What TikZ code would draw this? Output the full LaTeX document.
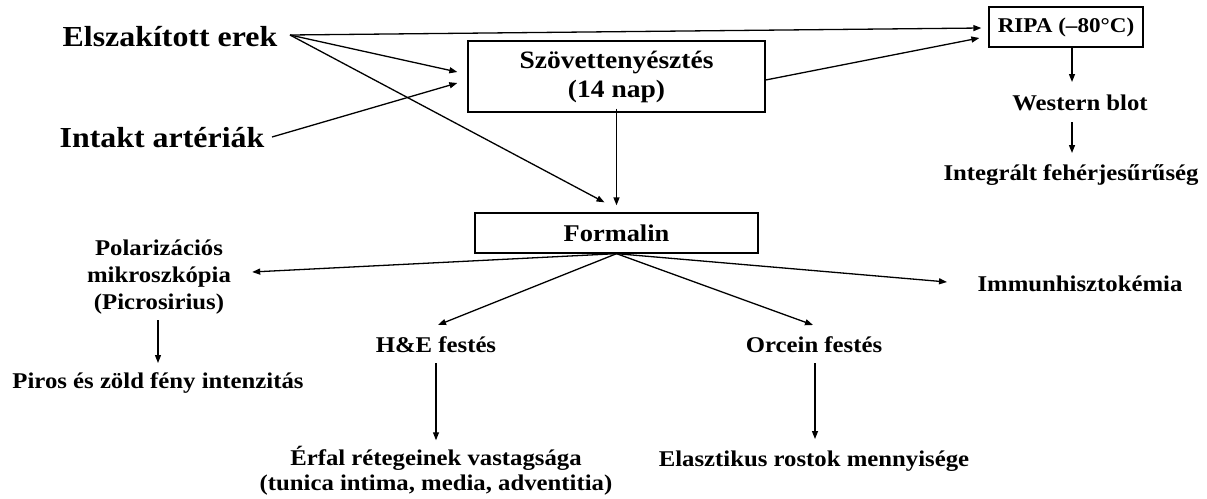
\documentclass[tikz,border=0pt]{standalone}
\usepackage{fontspec}
\setmainfont{Liberation Serif}[FakeStretch=1.1]
\usetikzlibrary{arrows.meta,calc}
\begin{document}
\begin{tikzpicture}[x=1pt,y=-1pt,
  txt/.style={inner sep=0pt, font=\bfseries\fontsize{22.5}{26}\selectfont, align=center},
  big/.style={inner sep=0pt, font=\bfseries\fontsize{29}{34}\selectfont},
  box/.style={draw, line width=1.3pt, inner sep=0pt, align=center},
  arr/.style={line width=1.3pt, -{Triangle[length=8pt,width=6pt]}}]
\useasboundingbox (0,0) rectangle (1207,498);
% sources
\node[big, anchor=base] (elsz) at (170,46) {Elszakított erek};
\node[big, anchor=base] (intakt) at (162,147) {Intakt artériák};
\coordinate (eo) at (290,35);
\coordinate (io) at (272,137);
% boxes
\node[box, minimum width=297pt, minimum height=71pt, font=\bfseries\fontsize{25}{29}\selectfont] (szov) at (616.5,76.5) {Szövettenyésztés\\(14 nap)};
\node[box, minimum width=154pt, minimum height=40pt, font=\bfseries\fontsize{21}{24}\selectfont] (ripa) at (1066,27) {RIPA (–80°C)};
\node[box, minimum width=283pt, minimum height=40pt, font=\bfseries\fontsize{24}{28}\selectfont] (formalin) at (616.5,233) {Formalin};
% texts
\node[txt, anchor=base] (western) at (1080,110) {Western blot};
\node[txt, anchor=base] (integ) at (1071,180) {Integrált fehérjesűrűség};
\node[txt, font=\bfseries\fontsize{22.5}{27}\selectfont] (polar) at (159,277) {Polarizációs\\mikroszkópia\\(Picrosirius)};
\node[txt, anchor=base] (piros) at (158,388) {Piros és zöld fény intenzitás};
\node[txt, anchor=base] (he) at (436,352) {H\&E festés};
\node[txt, anchor=base] (orcein) at (814,352) {Orcein festés};
\node[txt, anchor=base] (immun) at (1080,291) {Immunhisztokémia};
\node[txt, font=\bfseries\fontsize{22.5}{25}\selectfont] (erfal) at (436,471) {Érfal rétegeinek vastagsága\\(tunica intima, media, adventitia)};
\node[txt, anchor=base] (elaszt) at (814,466) {Elasztikus rostok mennyisége};
% connectors
\draw[arr] (eo) -- ($(ripa.west)+(-7,1)$);
\draw[arr] (eo) -- ($(szov.west)+(-10,-4.5)$);
\draw[arr] (io) -- ($(szov.west)+(-10,6.5)$);
\draw[arr] (eo) -- ($(formalin.north)+(-12,-10)$);
\draw[arr] ($(szov.east)+(0,3.5)$) -- ($(ripa.west)+(-9,11)$);
\draw[arr] ($(szov.south)+(0,-4)$) -- ($(formalin.north)+(0,-7)$);
\draw[arr] ($(ripa.south)+(6,0)$) -- ($(western.base)+(-8,-28)$);
\draw[arr] ($(western.base)+(-8,12)$) -- ($(integ.base)+(1,-27)$);
\draw[arr] (formalin.south) -- ($(polar.east)+(21,-5)$);
\draw[arr] (formalin.south) -- ($(he.base)+(2,-27)$);
\draw[arr] (formalin.south) -- ($(orcein.base)+(-1,-27)$);
\draw[arr] (formalin.south) -- ($(immun.base)+(-133,-9)$);
\draw[arr] ($(polar.south)+(-1,6)$) -- ($(piros.base)+(0,-25)$);
\draw[arr] ($(he.base)+(0,11)$) -- ($(erfal.north)+(0,-6)$);
\draw[arr] ($(orcein.base)+(1,11)$) -- ($(elaszt.base)+(1,-27)$);
\end{tikzpicture}
\end{document}
